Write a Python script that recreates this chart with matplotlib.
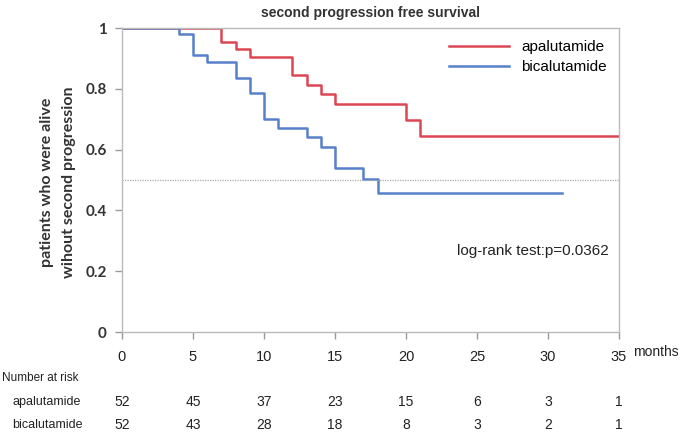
import matplotlib
matplotlib.use("Agg")
import matplotlib.pyplot as plt
from matplotlib import font_manager

# step data (month of drop, level after drop)
apa_t = [0, 7, 8, 9, 12, 13, 14, 15, 20, 21, 35]
apa_s = [1.0, 0.953, 0.930, 0.903, 0.847, 0.814, 0.782, 0.749, 0.698, 0.644, 0.644]
bic_t = [0, 4, 5, 6, 8, 9, 10, 11, 13, 14, 15, 17, 18, 31]
bic_s = [1.0, 0.980, 0.911, 0.887, 0.837, 0.785, 0.700, 0.672, 0.641, 0.608, 0.541, 0.504, 0.458, 0.458]

risk_times = [0, 5, 10, 15, 20, 25, 30, 35]
risk_apa = [52, 45, 37, 23, 15, 6, 3, 1]
risk_bic = [52, 43, 28, 18, 8, 3, 2, 1]

names = [f.name for f in font_manager.fontManager.ttflist]
narrow = 'Liberation Sans Narrow' if 'Liberation Sans Narrow' in names else 'Liberation Sans'
arial = 'Liberation Sans'
calib = 'Lato'

red = '#dc4653'
blue = '#4472c4'

fig = plt.figure(figsize=(6.85, 4.34), dpi=100)
ax = fig.add_axes([122/685, 1-332/434, (619-122)/685, (332-28)/434])

ax.step(apa_t, apa_s, where='post', color=red, lw=1.8, label='apalutamide')
ax.step(bic_t, bic_s, where='post', color=blue, lw=1.8, label='bicalutamide', alpha=0.9)
ax.axhline(0.5, color='#aaaaaa', lw=0.9, ls=(0, (1, 1)))

ax.set_xlim(0, 35)
ax.set_ylim(0, 1)
ax.set_xticks(risk_times)
ax.set_yticks([0, 0.2, 0.4, 0.6, 0.8, 1])
ax.set_yticklabels(['0', '0.2', '0.4', '0.6', '0.8', '1'],
                   fontname=calib, fontsize=11, fontweight='bold', color='#333333')
ax.set_xticklabels([str(t) for t in risk_times], fontname=narrow, fontsize=10.5, color='#222222')
for s in ax.spines.values():
    s.set_color('#bbbbbb')
    s.set_linewidth(1.0)
ax.tick_params(axis='both', color='#999999', length=5, width=1.0)
ax.tick_params(axis='x', pad=8)
ax.tick_params(axis='y', pad=6)

ax.set_title('second progression free survival', fontname=arial, fontsize=10,
             fontweight='bold', color='#333333', pad=8)
fig.text(58/685, 1-182/434, 'patients who were alive\nwihout second progression',
         rotation=90, ha='center', va='center', fontname=calib, fontsize=11.5,
         fontweight='bold', color='#333333', linespacing=1.75)

leg = ax.legend(loc='upper right', bbox_to_anchor=(1.0, 1.0), frameon=False,
                prop={'family': arial, 'size': 11}, handlelength=3.9, handletextpad=0.8,
                labelspacing=0.4, borderaxespad=0.4)

ax.text(0.98, 0.265, 'log-rank test:p=0.0362', transform=ax.transAxes, ha='right',
        va='center', fontname=arial, fontsize=11, color='#222222')

fig.text(633/685, 1-352/434, 'months', ha='left', va='center', fontname=narrow,
         fontsize=10, color='#222222')

# number at risk table
fig.text(2/685, 1-378/434, 'Number at risk', ha='left', va='center', fontname=narrow,
         fontsize=8.5, color='#222222')
fig.text(12/685, 1-402/434, 'apalutamide', ha='left', va='center', fontname=narrow,
         fontsize=9, color='#222222')
fig.text(12/685, 1-425/434, 'bicalutamide', ha='left', va='center', fontname=narrow,
         fontsize=9, color='#222222')
for t, a, b in zip(risk_times, risk_apa, risk_bic):
    xf = (122 + t * (619 - 122) / 35) / 685
    fig.text(xf, 1-402/434, str(a), ha='center', va='center', fontname=narrow,
             fontsize=10, color='#222222')
    fig.text(xf, 1-425/434, str(b), ha='center', va='center', fontname=narrow,
             fontsize=10, color='#222222')

fig.savefig('out.png', dpi=100)
